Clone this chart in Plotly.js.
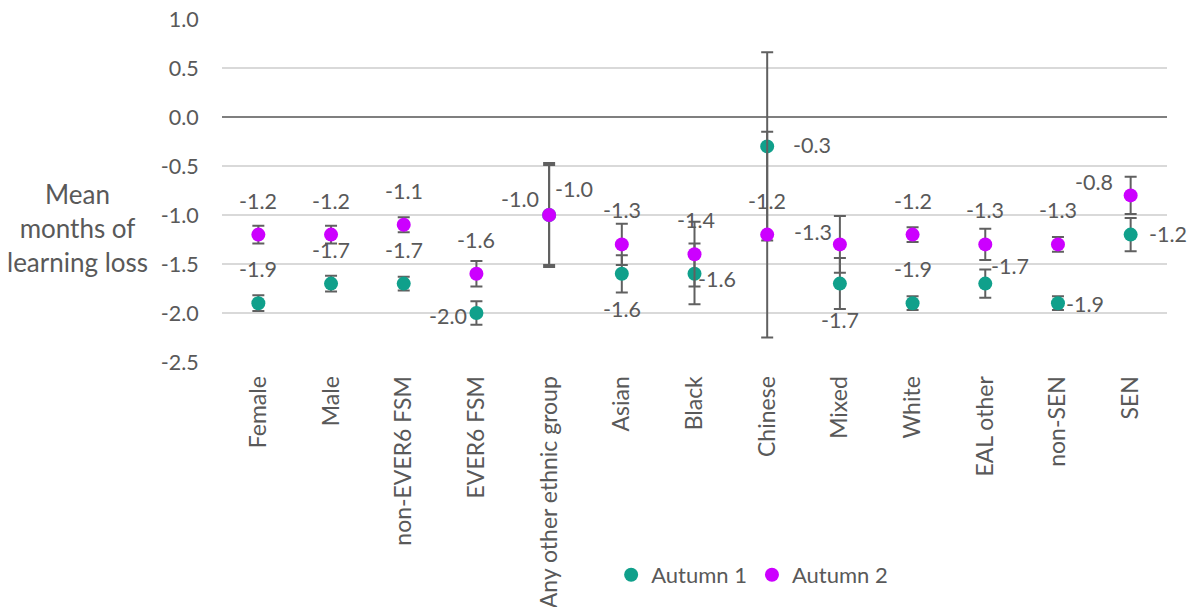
<!DOCTYPE html>
<html>
<head>
<meta charset="utf-8">
<script src="https://cdn.plot.ly/plotly-3.0.1.min.js"></script>
<style>html,body{margin:0;padding:0;background:#fff;}#chart{width:1197px;height:607px;}</style>
</head>
<body>
<div id="chart"></div>
<script>
// ---- data ----
var categories = ["Female","Male","non-EVER6 FSM","EVER6 FSM","Any other ethnic group","Asian","Black","Chinese","Mixed","White","EAL other","non-SEN","SEN"];
var autumn1 = [-1.9,-1.7,-1.7,-2.0,-1.0,-1.6,-1.6,-0.3,-1.7,-1.9,-1.7,-1.9,-1.2];
var autumn1Err = [0.08,0.08,0.07,0.12,0.53,0.19,0.31,0.96,0.26,0.07,0.145,0.07,0.17];
var autumn2 = [-1.2,-1.2,-1.1,-1.6,-1.0,-1.3,-1.4,-1.2,-1.3,-1.2,-1.3,-1.3,-0.8];
var autumn2Err = [0.09,0.09,0.076,0.13,0.51,0.21,0.33,1.05,0.29,0.076,0.16,0.075,0.19];
var yTickVals = [1.0,0.5,0.0,-0.5,-1.0,-1.5,-2.0,-2.5];
var yTickText = ["1.0","0.5","0.0","-0.5","-1.0","-1.5","-2.0","-2.5"];

// ---- label placement styles (screen px, visual offsets; dy positive = down) ----
var a1dx = [0,0,0,-28,-29,0,22,45,0,0,25,27,37];
var a1dy = [-32,-32,-32,5,-14,37,7,1,38,-32,-16,3,1];
var a2dx = [0,0,0,0,25,0,1,0,-27,0,0,0,-37];
var a2dy = [-32,-32,-32,-32,-24,-32,-32,-32,-10,-32,-32,-32,-11];

var FONT = "Lato, 'Open Sans', sans-serif";
var TXT = "#595959";
var C1 = "#10a08b";
var C2 = "#cc00ff";
var VIS = 2; // correction of glyph visual centre vs box centre

function mkTrace(name, vals, errs, color) {
  return {
    type: "scatter", mode: "markers", name: name,
    x: categories, y: vals,
    marker: {color: color, size: 14},
    error_y: {type: "data", array: errs, visible: true, color: "#606060", thickness: 2, width: 6},
    hoverinfo: "skip"
  };
}

var annotations = [];
function addLabels(vals, dx, dy) {
  for (var i = 0; i < vals.length; i++) {
    annotations.push({
      x: categories[i], y: vals[i], xref: "x", yref: "y",
      text: vals[i].toFixed(1), showarrow: false,
      xanchor: "center", yanchor: "middle",
      xshift: dx[i], yshift: -dy[i] + VIS,
      font: {family: FONT, size: 21.5, color: TXT}
    });
  }
}
addLabels(autumn1, a1dx, a1dy);
addLabels(autumn2, a2dx, a2dy);

annotations.push({
  xref: "paper", yref: "paper", x: -0.153, y: 0.39,
  xanchor: "center", yanchor: "middle", showarrow: false,
  text: "Mean<br>months of<br>learning loss",
  font: {family: FONT, size: 26, color: TXT}
});

var layout = {
  width: 1197, height: 607,
  margin: {l: 222, r: 30, t: 19, b: 244},
  paper_bgcolor: "#fff", plot_bgcolor: "#fff",
  font: {family: FONT, size: 21, color: TXT},
  showlegend: true,
  legend: {orientation: "h", x: 0.561, y: -0.616, xanchor: "center", yanchor: "middle",
           font: {family: FONT, size: 22, color: TXT}, itemwidth: 30},
  xaxis: {
    type: "category", range: [-0.5, 12.5], tickangle: -90,
    showgrid: false, showline: false, zeroline: false,
    ticks: "outside", ticklen: 4, tickcolor: "rgba(0,0,0,0)",
    tickfont: {family: FONT, size: 23, color: TXT}, fixedrange: true
  },
  yaxis: {
    range: [-2.5, 1.0], tickvals: yTickVals, ticktext: yTickText,
    showgrid: true, gridcolor: "#d9d9d9", gridwidth: 1.5,
    zeroline: true, zerolinecolor: "#7f7f7f", zerolinewidth: 1.8,
    showline: false, ticks: "outside", ticklen: 18, tickcolor: "rgba(0,0,0,0)",
    tickfont: {family: FONT, size: 21.5, color: TXT}, fixedrange: true
  },
  annotations: annotations
};

Plotly.newPlot("chart", [mkTrace("Autumn 1", autumn1, autumn1Err, C1), mkTrace("Autumn 2", autumn2, autumn2Err, C2)], layout, {staticPlot: true});
</script>
</body>
</html>
